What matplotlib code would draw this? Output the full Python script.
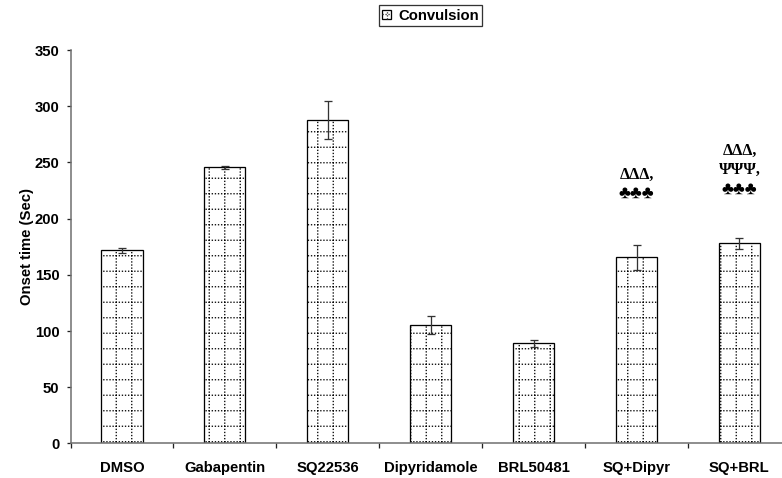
import numpy as np
import matplotlib
matplotlib.use('Agg')
import matplotlib.pyplot as plt
import matplotlib.hatch as mhatch
from matplotlib.path import Path
from matplotlib.legend_handler import HandlerBase
from matplotlib.patches import Rectangle
from matplotlib.lines import Line2D

# ---------------- data ----------------
categories = ['DMSO', 'Gabapentin', 'SQ22536', 'Dipyridamole', 'BRL50481', 'SQ+Dipyr', 'SQ+BRL']
onset = [172, 245.5, 288, 105.5, 89, 165.5, 178]
sem = [2.2, 1.5, 17, 7.8, 3.3, 11, 5]
yticks = [0, 50, 100, 150, 200, 250, 300, 350]
ylabel = 'Onset time (Sec)'
series_name = 'Convulsion'
mark_index = [5, 6]
mark_lines = [['ΔΔΔ,', '♣♣♣'], ['ΔΔΔ,', 'ΨΨΨ,', '♣♣♣']]

# ---------------- dotted-grid hatch ----------------
_orig_get_path = mhatch.get_path


def _dotted_grid(hatchpattern, density=6):
    if hatchpattern != '+':
        return _orig_get_path(hatchpattern, density)
    n, ndots = 6, 30
    verts, codes = [], []
    for i in range(n):
        c = (i + 0.5) / n
        for j in range(ndots):
            a = (j + 0.49) / ndots
            b = (j + 0.51) / ndots
            verts += [(a, c), (b, c), (c, a), (c, b)]
            codes += [Path.MOVETO, Path.LINETO, Path.MOVETO, Path.LINETO]
    return Path(np.array(verts, float), np.array(codes, dtype=Path.code_type))


mhatch.get_path = _dotted_grid


class DotGridHandler(HandlerBase):
    def create_artists(self, legend, orig_handle, xdescent, ydescent,
                       width, height, fontsize, trans):
        x0, y0 = -xdescent, -ydescent
        r = Rectangle((x0, y0), width, height, facecolor='white',
                      edgecolor='black', linewidth=1.0, transform=trans)
        cx, cy = x0 + width / 2, y0 + height / 2
        ls = (0, (1.0, 1.3))
        l1 = Line2D([cx, cx], [y0, y0 + height], color='#333333', lw=1.0,
                    linestyle=ls, transform=trans)
        l2 = Line2D([x0, x0 + width], [cy, cy], color='#333333', lw=1.0,
                    linestyle=ls, transform=trans)
        return [r, l1, l2]


DPI = 93
plt.rcParams['font.family'] = ['Liberation Sans', 'DejaVu Sans']
plt.rcParams['font.weight'] = 'bold'
plt.rcParams['hatch.linewidth'] = 1.0

fig = plt.figure(figsize=((782 + 0.1) / DPI, (478 + 0.1) / DPI), dpi=DPI)
W, H = 782, 478
ax = fig.add_axes([70.5 / W, 34.5 / H, 720.3 / W, (443.5 - 50) / H])

x = np.arange(len(categories))
bars = ax.bar(x, onset, width=0.4, facecolor='white', edgecolor='black',
              linewidth=1.0, hatch='+', label=series_name, zorder=2)
ax.errorbar(x, onset, yerr=sem, fmt='none', ecolor='#333333', elinewidth=1.0,
            capsize=3.2, capthick=1.0, zorder=3)

ax.set_xlim(-0.5, len(categories) - 0.5)
ax.set_ylim(0, 350)
ax.set_yticks(yticks)
ax.set_xticks(x)
ax.set_xticklabels(categories)
ax.set_xticks(np.arange(-0.5, len(categories) - 0.5, 1.0), minor=True)

fs = 11.5
ax.tick_params(axis='x', which='major', length=0, pad=13.5, labelsize=fs)
ax.tick_params(axis='x', which='minor', length=4, width=1.0, direction='out', color='#222222')
ax.tick_params(axis='y', which='major', length=3.2, width=1.0, direction='out',
               color='#222222', pad=5.5, labelsize=fs)
for lab in ax.get_xticklabels() + ax.get_yticklabels():
    lab.set_fontweight('bold')

for s in ['top', 'right']:
    ax.spines[s].set_visible(False)
for s in ['left', 'bottom']:
    ax.spines[s].set_color('#707070')
    ax.spines[s].set_linewidth(1.2)

ax.set_ylabel(ylabel, fontsize=fs, fontweight='bold')
ax.yaxis.set_label_coords((33.5 - 70.5) / 720.3, 0.5)

# significance marks
px = 72.0 / DPI
for idx, lines in zip(mark_index, mark_lines):
    top = onset[idx] + sem[idx]
    nl = len(lines)
    base = 47 if nl == 2 else 44
    for k, t in enumerate(lines):
        off = (base + (nl - 1 - k) * 19.5) * px
        size = 14 if '♣' in t else 12.5
        ax.annotate(t, xy=(idx, top), xytext=(0, off), textcoords='offset points',
                    ha='center', va='baseline', fontsize=size, fontweight='bold',
                    family=['Liberation Serif', 'DejaVu Sans'])

leg = fig.legend([bars], [series_name], loc='upper center',
                 bbox_to_anchor=(430.5 / W, 1 - 5 / H),
                 handler_map={type(bars): DotGridHandler()},
                 fontsize=fs, frameon=True, fancybox=False, shadow=False,
                 handlelength=0.6, handleheight=0.6, handletextpad=0.45,
                 borderpad=0.25, borderaxespad=0)
leg.get_frame().set_edgecolor('black')
leg.get_frame().set_linewidth(1.0)
for t in leg.get_texts():
    t.set_fontweight('bold')

fig.savefig('out.png', dpi=DPI)
